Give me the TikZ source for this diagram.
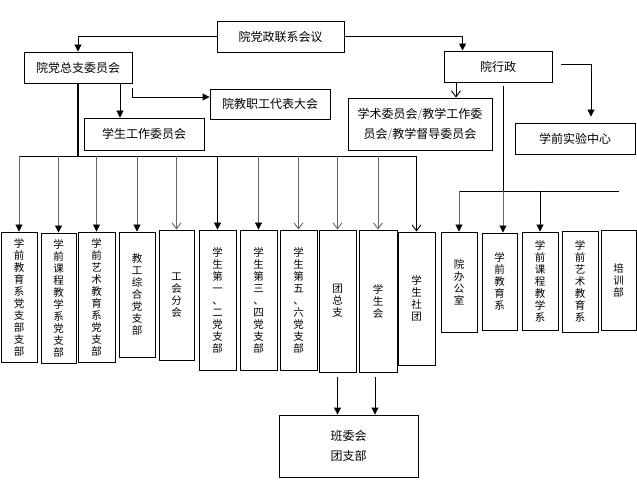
\documentclass[tikz,border=0pt]{standalone}
\usepackage{fontspec}
\setmainfont{Noto Sans CJK SC}
\usetikzlibrary{arrows.meta}
\tikzset{box/.style={draw,line width=0.9pt,inner sep=0pt,align=center,
                     font=\fontsize{12}{20}\selectfont},
         vbox/.style={box,font=\fontsize{10.5}{12}\selectfont},
         link/.style={line width=0.9pt},
         grayline/.style={draw=black!60},
         solidtip/.style={link,-{Triangle[length=7pt,width=7pt,color=black]}},
         opentip/.style={link,-{Straight Barb[length=6pt,width=9pt]}},
         solidgray/.style={solidtip,grayline},
         opengray/.style={opentip,grayline}}
% one character per line
\makeatletter
\newcommand\vstack[1]{\vstack@a#1\relax}
\def\vstack@a#1#2{#1\ifx\relax#2\expandafter\@gobble\else\expandafter\@firstofone\fi{\\\vstack@a#2}}
\makeatother

\begin{document}
\begin{tikzpicture}[x=1pt,y=-1pt]
  \useasboundingbox (0,0) rectangle (637,489);
  % top level
  \node[box,minimum width=127pt,minimum height=31pt] (lianxi) at (280.5,36.5) {院党政联系会议};
  \node[box,minimum width=108pt,minimum height=31pt] (zongzhi) at (78,67.5) {院党总支委员会};
  \node[box,minimum width=108pt,minimum height=31pt] (xingzheng) at (498,66.5) {院行政};
  \node[box,minimum width=120pt,minimum height=32pt] (xuegong) at (144,134) {学生工作委员会};
  \node[box,minimum width=120pt,minimum height=30pt] (jiaodai) at (270,104) {院教职工代表大会};
  \node[box,minimum width=144pt,minimum height=52pt] (xueshu) at (420,124)
    {学术委员会{\color{gray}/}教学工作委\\员会{\color{gray}/}教学督导委员会};
  \node[box,minimum width=120pt,minimum height=31pt] (shiyan) at (575,138.5) {学前实验中心};

  % party branch row
  \node[vbox,minimum width=36pt,minimum height=130pt] (b1) at (19,297) {\vstack{学前教育系党支部支部}};
  \node[vbox,minimum width=35pt,minimum height=130pt] (b2) at (58.5,298) {\vstack{学前课程教学系党支部}};
  \node[vbox,minimum width=37pt,minimum height=130pt] (b3) at (96.5,297) {\vstack{学前艺术教育系党支部}};
  \node[vbox,minimum width=36pt,minimum height=125pt] (b4) at (137,294.5) {\vstack{教工综合党支部}};
  \node[vbox,minimum width=35pt,minimum height=130pt] (b5) at (176.5,295) {\vstack{工会分会}};
  \node[vbox,minimum width=37pt,minimum height=140pt] (b6) at (217.5,300) {\vstack{学生第一、二党支部}};
  \node[vbox,minimum width=37pt,minimum height=140pt] (b7) at (258.5,300) {\vstack{学生第三、四党支部}};
  \node[vbox,minimum width=37pt,minimum height=140pt] (b8) at (298.5,300) {\vstack{学生第五、六党支部}};
  \node[vbox,minimum width=37pt,minimum height=142pt] (b9) at (337.5,301) {\vstack{团总支}};
  \node[vbox,minimum width=38pt,minimum height=142pt] (b10) at (378,301) {\vstack{学生会}};
  \node[vbox,minimum width=37pt,minimum height=133pt] (b11) at (416.5,298.5) {\vstack{学生社团}};

  % administration row
  \node[vbox,minimum width=36pt,minimum height=100pt] (r1) at (459,282) {\vstack{院办公室}};
  \node[vbox,minimum width=35pt,minimum height=97pt] (r2) at (499.5,281.5) {\vstack{学前教育系}};
  \node[vbox,minimum width=36pt,minimum height=98pt] (r3) at (540,281) {\vstack{学前课程教学系}};
  \node[vbox,minimum width=36pt,minimum height=101pt] (r4) at (580,281.5) {\vstack{学前艺术教育系}};
  \node[vbox,minimum width=35pt,minimum height=100pt] (r5) at (618.5,280) {\vstack{培训部}};

  \node[box,minimum width=139pt,minimum height=62pt] (banwei) at (348.5,446) {班委会\\团支部};

  % connectors from the top
  \draw[solidtip] (lianxi.west) -| (zongzhi.north);
  \draw[solidtip] (lianxi.east) -| ([xshift=19pt]xingzheng.north west);
  \draw[solidtip] ([xshift=42pt]zongzhi.south) -- ([xshift=42pt]zongzhi.south |- xuegong.north);
  \draw[solidtip] ([yshift=-5pt]zongzhi.south east) |- ([yshift=7pt]jiaodai.west);
  \draw[opentip] ([xshift=-42pt]xingzheng.south) -- ([xshift=-42pt]xingzheng.south |- xueshu.north);
  \draw[solidtip] ([xshift=9pt,yshift=2pt]xingzheng.east) -| ([xshift=16pt,yshift=6pt]shiyan.north);

  % party bus
  \coordinate (bus) at (78,156);
  \draw[line width=2.6pt] (zongzhi.south) -- (bus);
  \draw[link] (b1.north |- bus) -- (b11.north |- bus);
  \foreach \n/\tip in {b1/solidgray,b2/solidgray,b3/solidgray,b4/solidgray,b5/opengray,
                       b6/solidtip,b7/solidgray,b8/opengray,b9/opengray,b10/opengray,b11/opentip}
    \draw[\tip] (\n.north |- bus) -- (\n.north);

  % administration bus
  \coordinate (bus2) at (503,191);
  \draw[link] ([xshift=5pt,yshift=-4pt]xingzheng.south) -- (bus2);
  \draw[link] (r1.north |- bus2) -- (r5.north |- bus2);
  \draw[solidgray] (r1.north |- bus2) -- (r1.north);
  \draw[solidgray] (bus2) -- (bus2 |- r2.north);
  \draw[solidtip] (r3.north |- bus2) -- (r3.north);

  % to the class committees
  \draw[solidtip] ([yshift=-5pt]b9.south) -- (b9.south |- banwei.north);
  \draw[solidtip] ([xshift=-3pt,yshift=-5pt]b10.south) -- ([xshift=-3pt]b10.south |- banwei.north);
\end{tikzpicture}
\end{document}
